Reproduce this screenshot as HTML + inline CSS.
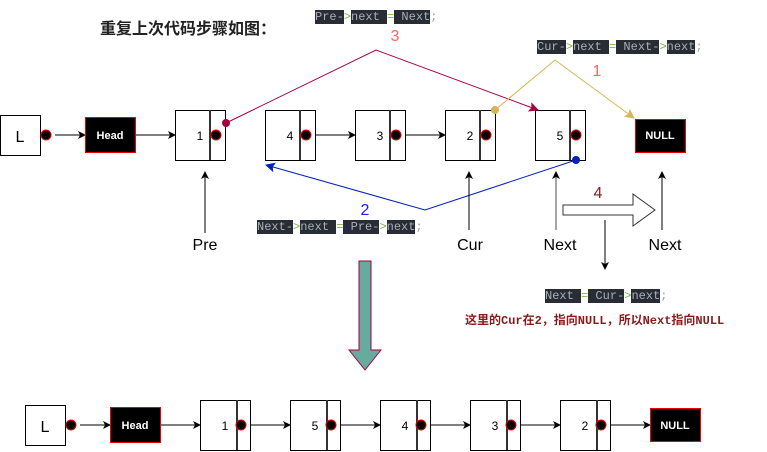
<!DOCTYPE html>
<html><head><meta charset="utf-8"><style>
body{margin:0;width:767px;height:452px;background:#fff;overflow:hidden;position:relative;font-family:"Liberation Sans",sans-serif}
.code{position:absolute;font-family:"Liberation Mono",monospace;font-size:12px;color:#9aa0a8;white-space:pre;line-height:16px}
.code b{font-weight:normal;background:#282c34;color:#a9b0b8}
.code i{font-style:normal;color:#7cb342}
.t{position:absolute;font-size:16px;color:#222}
</style></head><body>
<svg width="767" height="452" style="position:absolute;left:0;top:0">
<defs>
<marker id="ak" markerWidth="8" markerHeight="8" refX="7" refY="4" orient="auto" markerUnits="userSpaceOnUse"><path d="M0,0 L8,4 L0,8 L2,4z" fill="#000"/></marker>
<marker id="ar" markerWidth="10" markerHeight="10" refX="9" refY="5" orient="auto" markerUnits="userSpaceOnUse"><path d="M0,0 L10,5 L0,10 L2,5z" fill="#a50040"/></marker>
<marker id="ag" markerWidth="10" markerHeight="10" refX="9" refY="5" orient="auto" markerUnits="userSpaceOnUse"><path d="M0,0 L10,5 L0,10 L2,5z" fill="#d6b656"/></marker>
<marker id="ab" markerWidth="10" markerHeight="10" refX="9" refY="5" orient="auto" markerUnits="userSpaceOnUse"><path d="M0,0 L10,5 L0,10 L2,5z" fill="#0020c0"/></marker>
</defs>
<g font-family="Liberation Sans,sans-serif" font-size="12" text-anchor="middle">
<!-- top row -->
<rect x="0.5" y="115.5" width="40" height="40" fill="#fff" stroke="#000"/><text x="20" y="142" font-size="16">L</text>
<circle cx="46" cy="135" r="5" fill="#000" stroke="#e00"/>
<line x1="55" y1="135" x2="85" y2="135" stroke="#000" marker-end="url(#ak)"/>
<rect x="85.5" y="117.5" width="50" height="35" fill="#000" stroke="#e00"/><text x="110" y="139" fill="#fff" font-weight="bold" font-size="11">Head</text>
<line x1="136" y1="135" x2="175" y2="135" stroke="#000" marker-end="url(#ak)"/>
<g id="n">
</g>
<rect x="175.5" y="110.5" width="50" height="50" fill="#fff" stroke="#000"/><line x1="210" y1="110" x2="210" y2="160" stroke="#333" stroke-width="2"/><text x="200" y="140">1</text><circle cx="216" cy="135" r="5" fill="#000" stroke="#e00"/>
<rect x="265.5" y="110.5" width="50" height="50" fill="#fff" stroke="#000"/><line x1="300" y1="110" x2="300" y2="160" stroke="#333" stroke-width="2"/><text x="290" y="140">4</text><circle cx="306" cy="135" r="5" fill="#000" stroke="#e00"/>
<line x1="315" y1="135" x2="355" y2="135" stroke="#000" marker-end="url(#ak)"/>
<rect x="355.5" y="110.5" width="50" height="50" fill="#fff" stroke="#000"/><line x1="390" y1="110" x2="390" y2="160" stroke="#333" stroke-width="2"/><text x="380" y="140">3</text><circle cx="396" cy="135" r="5" fill="#000" stroke="#e00"/>
<line x1="405" y1="135" x2="445" y2="135" stroke="#000" marker-end="url(#ak)"/>
<rect x="445.5" y="110.5" width="50" height="50" fill="#fff" stroke="#000"/><line x1="480" y1="110" x2="480" y2="160" stroke="#333" stroke-width="2"/><text x="470" y="140">2</text><circle cx="486" cy="135" r="5" fill="#000" stroke="#e00"/>
<rect x="535.5" y="110.5" width="50" height="50" fill="#fff" stroke="#000"/><line x1="570" y1="110" x2="570" y2="160" stroke="#333" stroke-width="2"/><text x="560" y="140">5</text><circle cx="576" cy="135" r="5" fill="#000" stroke="#e00"/>
<rect x="635.5" y="119.5" width="50" height="33" fill="#000" stroke="#e00"/><text x="660" y="139" fill="#fff" font-weight="bold" font-size="11">NULL</text>
<!-- connectors -->
<polyline points="226,123 376,50 538,110" fill="none" stroke="#a50040" marker-end="url(#ar)"/><circle cx="226" cy="123" r="4" fill="#a50040"/>
<polyline points="495,110 555,60 634,118" fill="none" stroke="#d6b656" marker-end="url(#ag)"/><circle cx="495" cy="110" r="4" fill="#d6b656"/>
<polyline points="576,160 425,210 266,165" fill="none" stroke="#0020c0" marker-end="url(#ab)"/><circle cx="576" cy="160" r="4" fill="#0020c0"/>
<text x="395" y="41" fill="#ff6666" font-size="16">3</text>
<text x="597" y="76" fill="#ff6666" font-size="16">1</text>
<text x="365" y="215" fill="#1a1aff" font-size="16">2</text>
<text x="598" y="198" fill="#8b1a1a" font-size="16">4</text>
<line x1="205" y1="233" x2="205" y2="172" stroke="#000" marker-end="url(#ak)"/>
<line x1="469" y1="230" x2="469" y2="172" stroke="#000" marker-end="url(#ak)"/>
<line x1="556" y1="230" x2="556" y2="172" stroke="#888" stroke-width="1.5" marker-end="url(#ak)"/>
<line x1="662" y1="230" x2="662" y2="172" stroke="#000" marker-end="url(#ak)"/>
<line x1="605" y1="220" x2="605" y2="269" stroke="#000" marker-end="url(#ak)"/>
<path d="M563,205 L633,205 L633,194 L655,210 L633,226 L633,215 L563,215 Z" fill="#fff" stroke="#333"/>
<text x="205" y="250" font-size="16">Pre</text><text x="470" y="250" font-size="16">Cur</text><text x="560" y="250" font-size="16">Next</text><text x="665" y="250" font-size="16">Next</text>
<path d="M359,261 L371,261 L371,350 L381,350 L365,370 L349,350 L359,350 Z" fill="#67ab9f" stroke="#a50040"/>
<!-- bottom row -->
<rect x="25.5" y="405.5" width="40" height="40" fill="#fff" stroke="#000"/><text x="45" y="432" font-size="16">L</text>
<circle cx="71" cy="425" r="5" fill="#000" stroke="#e00"/>
<line x1="80" y1="425" x2="110" y2="425" stroke="#000" marker-end="url(#ak)"/>
<rect x="110.5" y="407.5" width="50" height="35" fill="#000" stroke="#e00"/><text x="135" y="429" fill="#fff" font-weight="bold" font-size="11">Head</text>
<line x1="161" y1="425" x2="200" y2="425" stroke="#000" marker-end="url(#ak)"/>
<rect x="200.5" y="400.5" width="50" height="50" fill="#fff" stroke="#000"/><line x1="237" y1="400" x2="237" y2="450" stroke="#333" stroke-width="2"/><text x="225" y="430">1</text><circle cx="241" cy="425" r="5" fill="#000" stroke="#e00"/>
<line x1="250" y1="425" x2="290" y2="425" stroke="#000" marker-end="url(#ak)"/>
<rect x="290.5" y="400.5" width="50" height="50" fill="#fff" stroke="#000"/><line x1="327" y1="400" x2="327" y2="450" stroke="#333" stroke-width="2"/><text x="315" y="430">5</text><circle cx="331" cy="425" r="5" fill="#000" stroke="#e00"/>
<line x1="340" y1="425" x2="380" y2="425" stroke="#000" marker-end="url(#ak)"/>
<rect x="380.5" y="400.5" width="50" height="50" fill="#fff" stroke="#000"/><line x1="417" y1="400" x2="417" y2="450" stroke="#333" stroke-width="2"/><text x="405" y="430">4</text><circle cx="421" cy="425" r="5" fill="#000" stroke="#e00"/>
<line x1="430" y1="425" x2="470" y2="425" stroke="#000" marker-end="url(#ak)"/>
<rect x="470.5" y="400.5" width="50" height="50" fill="#fff" stroke="#000"/><line x1="507" y1="400" x2="507" y2="450" stroke="#333" stroke-width="2"/><text x="495" y="430">3</text><circle cx="511" cy="425" r="5" fill="#000" stroke="#e00"/>
<line x1="520" y1="425" x2="560" y2="425" stroke="#000" marker-end="url(#ak)"/>
<rect x="560.5" y="400.5" width="50" height="50" fill="#fff" stroke="#000"/><line x1="597" y1="400" x2="597" y2="450" stroke="#333" stroke-width="2"/><text x="585" y="430">2</text><circle cx="601" cy="425" r="5" fill="#000" stroke="#e00"/>
<line x1="610" y1="425" x2="650" y2="425" stroke="#000" marker-end="url(#ak)"/>
<rect x="650.5" y="408.5" width="50" height="33" fill="#000" stroke="#e00"/><text x="675" y="429" fill="#fff" font-weight="bold" font-size="11">NULL</text>
</g>
</svg>
<div class="t" style="left:100px;top:15px;font-weight:bold;font-family:'Liberation Sans','Noto Sans CJK SC',sans-serif">重复上次代码步骤如图：</div>
<div class="code" style="left:315px;top:9px"><b>Pre-</b><i>&gt;</i><b>next </b><i>=</i><b> Next</b>;</div>
<div class="code" style="left:537px;top:39px"><b>Cur-</b><i>&gt;</i><b>next </b><i>=</i><b> Next-</b><i>&gt;</i><b>next</b>;</div>
<div class="code" style="left:257px;top:219px"><b>Next-</b><i>&gt;</i><b>next </b><i>=</i><b> Pre-</b><i>&gt;</i><b>next</b>;</div>
<div class="code" style="left:545px;top:288px"><b>Next </b><i>=</i><b> Cur-</b><i>&gt;</i><b>next</b>;</div>
<div style="position:absolute;left:465px;top:311px;font-size:12px;color:#8b1a1a;font-weight:bold;white-space:nowrap;font-family:'Liberation Mono','Noto Sans CJK SC',monospace">这里的Cur在2，指向NULL，所以Next指向NULL</div>
</body></html>
